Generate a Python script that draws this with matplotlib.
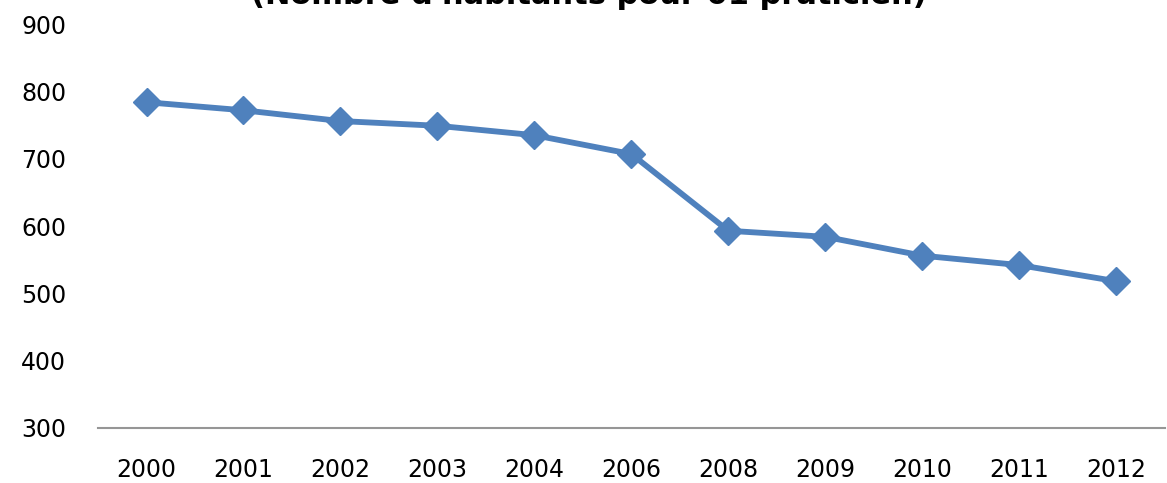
import matplotlib
matplotlib.use('Agg')
import matplotlib.pyplot as plt

annees = ['2000', '2001', '2002', '2003', '2004', '2006', '2008', '2009', '2010', '2011', '2012']
habitants = [784, 772, 756, 749, 735, 707, 593, 584, 556, 542, 518]

titre = "(Nombre d'habitants pour 01 praticien)"
bleu = '#4F81BD'

fig = plt.figure(figsize=(11.67, 4.83), dpi=100)
ax = fig.add_axes([0.084, 0.114, 0.914, 0.836])

x = list(range(len(annees)))
ax.plot(x, habitants, color=bleu, linewidth=4.2, marker='D', markersize=14,
        markerfacecolor=bleu, markeredgecolor=bleu, solid_joinstyle='round')

ax.set_xlim(-0.5, len(annees) - 0.5)
ax.set_ylim(300, 900)
ax.set_yticks(range(300, 901, 100))
ax.set_xticks(x)
ax.set_xticklabels(annees)

for cote in ['top', 'right', 'left']:
    ax.spines[cote].set_visible(False)
ax.spines['bottom'].set_color('#969696')
ax.spines['bottom'].set_linewidth(1.5)
ax.tick_params(axis='both', length=0, labelsize=17, colors='black')
ax.tick_params(axis='y', pad=23)
ax.tick_params(axis='x', pad=22)

fig.text(0.505, 1 - 4 / 483, titre, ha='center', va='baseline',
         fontsize=22, fontweight='bold')

fig.savefig('out.png', dpi=100)
